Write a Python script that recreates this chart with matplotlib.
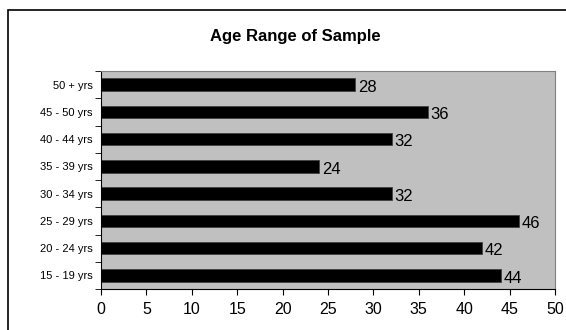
from matplotlib import pyplot as plt
from matplotlib.patches import Rectangle

categories = ['15 - 19 yrs', '20 - 24 yrs', '25 - 29 yrs', '30 - 34 yrs',
              '35 - 39 yrs', '40 - 44 yrs', '45 - 50 yrs', '50 + yrs']
counts = [44, 42, 46, 32, 24, 32, 36, 28]

plt.rcParams['font.family'] = ['Liberation Sans', 'DejaVu Sans']

fig = plt.figure(figsize=(5.66, 3.30), dpi=100)
ax = fig.add_axes([101 / 566, 41 / 330, 454 / 566, 218 / 330])
ax.set_facecolor('#c0c0c0')

ys = list(range(len(categories)))
ax.barh(ys, counts, height=0.45, color='black', edgecolor='#404040', linewidth=0.6)

for y, v in zip(ys, counts):
    ax.text(v + 0.3, y - 0.1, str(v), va='center', ha='left', fontsize=12)

ax.set_xlim(0, 50)
ax.set_ylim(-0.5, len(categories) - 0.5)
ax.set_xticks(range(0, 51, 5))
ax.tick_params(axis='x', labelsize=11.5, direction='out', length=4, pad=5)

ax.set_yticks(ys)
ax.set_yticklabels(categories, fontsize=8)
ax.set_yticks([y - 0.5 for y in range(len(categories) + 1)], minor=True)
ax.tick_params(axis='y', which='major', length=0, pad=6)
ax.tick_params(axis='y', which='minor', length=4, direction='out')

for s in ['top', 'right']:
    ax.spines[s].set_color('#808080')
for s in ['left', 'bottom']:
    ax.spines[s].set_color('black')

fig.text(295 / 566, 1 - 37 / 330, 'Age Range of Sample', ha='center', va='center',
         fontsize=12, fontweight='bold')

fig.patches.append(Rectangle((8 / 566, -0.1), 1.2, 1 - 10 / 330 + 0.1,
                             transform=fig.transFigure, fill=False,
                             edgecolor='black', linewidth=1.2))

fig.savefig('out.png', dpi=100)
